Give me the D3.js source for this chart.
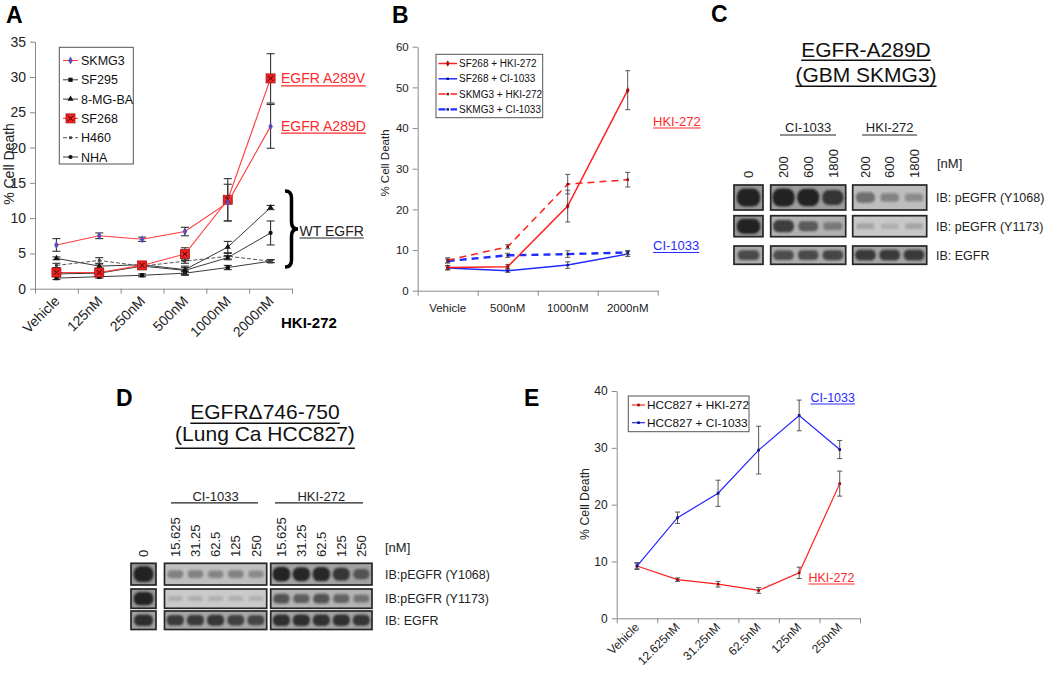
<!DOCTYPE html>
<html>
<head>
<meta charset="utf-8">
<script src="https://cdn.jsdelivr.net/npm/d3@7"></script>
<style>
body{margin:0;background:#fff;}
text{font-family:"Liberation Sans",Arial,sans-serif;}
</style>
</head>
<body>
<script>
// ---------------- DATA ----------------
// Panel A
const A_categories = ["Vehicle","125nM","250nM","500nM","1000nM","2000nM"];
const A_yTicks = [0,5,10,15,20,25,30,35];
const A_SKMG3 = [6.2, 7.5, 7.0, 8.1, 12.2, 23.0];
const A_SKMG3_err = [0.9, 0.4, 0.3, 0.6, 2.6, 3.1];
const A_SF295 = [1.5, 1.7, 1.9, 2.2, 3.0, 3.9];
const A_SF295_err = [0.2, 0.2, 0.2, 0.3, 0.3, 0.2];
const A_8MGBA = [4.3, 3.2, 3.4, 2.7, 5.9, 11.5];
const A_8MGBA_err = [0.2, 0.3, 0.3, 0.3, 0.8, 0.3];
const A_SF268 = [2.3, 2.3, 3.3, 4.9, 12.6, 29.8];
const A_SF268_err = [0.3, 0.3, 0.3, 0.9, 3.0, 3.5];
const A_H460 = [3.3, 4.0, 3.2, 3.9, 4.6, 3.9];
const A_H460_err = [0.3, 0.4, 0.4, 0.3, 0.4, 0.2];
const A_NHA = [2.1, 2.2, 3.2, 2.6, 4.4, 7.9];
const A_NHA_err = [0.2, 0.3, 0.2, 0.6, 0.3, 1.7];

// Panel B
const B_categories = ["Vehicle","500nM","1000nM","2000nM"];
const B_yTicks = [0,10,20,30,40,50,60];
const B_SF268_HKI = [5.7, 5.9, 20.8, 49.3];
const B_SF268_HKI_err = [0.5, 0.5, 3.9, 4.8];
const B_SF268_CI = [5.6, 4.9, 6.3, 9.0];
const B_SF268_CI_err = [0.5, 0.4, 0.8, 0.6];
const B_SKMG3_HKI = [7.5, 10.8, 26.2, 27.3];
const B_SKMG3_HKI_err = [0.6, 0.5, 2.4, 1.8];
const B_SKMG3_CI = [7.3, 8.7, 9.0, 9.4];
const B_SKMG3_CI_err = [0.5, 0.5, 0.8, 0.5];

// Panel E
const E_categories = ["Vehicle","12.625nM","31.25nM","62.5nM","125nM","250nM"];
const E_yTicks = [0,10,20,30,40];
const E_HKI = [9.2, 6.8, 6.0, 4.9, 8.0, 23.7];
const E_HKI_err = [0.5, 0.3, 0.5, 0.5, 1.0, 2.2];
const E_CI = [9.2, 17.7, 22.0, 29.6, 35.7, 29.7];
const E_CI_err = [0.6, 1.0, 2.3, 4.2, 2.7, 1.6];

// Panel C blot
const C_lanes = ["0","200","600","1800","200","600","1800"];
const C_groups = ["CI-1033","HKI-272"];
const C_rows = ["IB: pEGFR (Y1068)","IB: pEGFR (Y1173)","IB: EGFR"];
const C_row1 = [1.0, 1.0, 0.95, 0.75, 0.4, 0.25, 0.2];
const C_row2 = [1.0, 0.72, 0.5, 0.3, 0.1, 0.05, 0.1];
const C_row3 = [0.62, 0.6, 0.62, 0.65, 0.72, 0.72, 0.72];

// Panel D blot
const D_lanes = ["0","15.625","31.25","62.5","125","250","15.625","31.25","62.5","125","250"];
const D_groups = ["CI-1033","HKI-272"];
const D_rows = ["IB:pEGFR (Y1068)","IB:pEGFR (Y1173)","IB: EGFR"];
const D_row1 = [1.0, 0.3, 0.27, 0.25, 0.27, 0.22, 0.92, 0.85, 0.88, 0.75, 0.5];
const D_row2 = [0.95, 0.06, 0.06, 0.05, 0.05, 0.04, 0.55, 0.48, 0.55, 0.45, 0.35];
const D_row3 = [0.8, 0.72, 0.72, 0.75, 0.68, 0.65, 0.8, 0.8, 0.78, 0.78, 0.75];

// ---------------- DRAWING ----------------
const W = 1050, H = 675;
const svg = d3.select("body").append("svg").attr("width", W).attr("height", H);
svg.append("rect").attr("width", W).attr("height", H).attr("fill", "#fff");

const defs = svg.append("defs");
defs.append("filter").attr("id","blur").attr("x","-50%").attr("y","-50%").attr("width","200%").attr("height","200%")
  .append("feGaussianBlur").attr("stdDeviation", 1.3);

function underline(sel, color, off, w){
  const node = sel.node();
  const bb = node.getBBox();
  const y = +sel.attr("y") + off;
  d3.select(node.parentNode).append("line")
    .attr("x1", bb.x).attr("x2", bb.x + bb.width).attr("y1", y).attr("y2", y)
    .attr("stroke", color).attr("stroke-width", w || 1.2);
}

function panelLetter(t, x, y){
  svg.append("text").attr("x", x).attr("y", y).text(t)
    .attr("font-size", 23).attr("font-weight", "bold").attr("fill", "#000");
}

// generic line chart
function lineChart(cfg){
  const g = svg.append("g");
  const n = cfg.categories.length;
  const x = d3.scaleBand().domain(cfg.categories).range(cfg.xRange);
  const xEdge = d3.scaleLinear().domain([0, n]).range(cfg.xRange);
  const y = d3.scaleLinear().domain(cfg.yDomain).range(cfg.yRange);
  const ya = g.append("g").attr("transform", `translate(${cfg.xRange[0]},0)`)
    .call(d3.axisLeft(y).tickValues(cfg.yTicks).tickSize(cfg.tickSize || 5).tickSizeOuter(0));
  ya.select(".domain").attr("stroke", "#8a8a8a");
  ya.selectAll(".tick line").attr("stroke", "#8a8a8a");
  ya.selectAll(".tick text").attr("font-size", cfg.fontSize).attr("fill", "#222")
    .attr("font-family", "Liberation Sans, Arial, sans-serif").attr("dx", -1);
  const xa = g.append("g").attr("transform", `translate(0,${cfg.yRange[0]})`)
    .call(d3.axisBottom(xEdge).tickValues(d3.range(n + 1)).tickFormat("").tickSize(cfg.tickSize || 5).tickSizeOuter(0));
  xa.select(".domain").attr("stroke", "#8a8a8a");
  xa.selectAll(".tick line").attr("stroke", "#8a8a8a");
  const lab = g.append("g");
  cfg.categories.forEach(c => {
    const cx = x(c) + x.bandwidth() / 2;
    if (cfg.rotate) {
      lab.append("text").attr("transform", `translate(${cx + cfg.labDx},${cfg.labY}) rotate(-45)`)
        .attr("text-anchor", "end").attr("font-size", cfg.fontSize).attr("fill", "#222").text(c);
    } else {
      lab.append("text").attr("x", cx).attr("y", cfg.labY).attr("text-anchor", "middle")
        .attr("font-size", cfg.fontSize).attr("fill", "#222").text(c);
    }
  });
  g.append("text").attr("transform", `translate(${cfg.yTitleX},${cfg.yTitleY}) rotate(-90)`)
    .attr("text-anchor", "middle").attr("font-size", cfg.yTitleSize).attr("fill", "#222").text("% Cell Death");
  cfg.series.forEach(s => {
    const pts = cfg.categories.map((c, i) => ({x: x(c) + x.bandwidth() / 2, v: s.values[i], e: s.err[i]}));
    const eb = g.append("g").attr("stroke", s.errColor || "#333").attr("stroke-width", s.errWidth || 1.1);
    pts.forEach(p => {
      eb.append("line").attr("x1", p.x).attr("x2", p.x).attr("y1", y(p.v - p.e)).attr("y2", y(p.v + p.e));
      [p.v - p.e, p.v + p.e].forEach(v => eb.append("line").attr("x1", p.x - cfg.cap).attr("x2", p.x + cfg.cap)
        .attr("y1", y(v)).attr("y2", y(v)));
    });
    g.append("path").datum(pts).attr("fill", "none").attr("stroke", s.color).attr("stroke-width", s.width)
      .attr("stroke-dasharray", s.dash || null)
      .attr("d", d3.line().x(p => p.x).y(p => y(p.v)));
    pts.forEach(p => drawMarker(g, s, p.x, y(p.v)));
  });
  return {x, y, g};
}

function drawMarker(g, s, px, py){
  if (!s.marker) return;
  if (s.marker === "redbox") {
    g.append("rect").attr("x", px - 4.5).attr("y", py - 4.5).attr("width", 9).attr("height", 9)
      .attr("fill", "#ee2222").attr("stroke", "#aa1111").attr("stroke-width", 0.8);
    g.append("path").attr("d", `M${px-2.5},${py-2.5}L${px+2.5},${py+2.5}M${px+2.5},${py-2.5}L${px-2.5},${py+2.5}`)
      .attr("stroke", "#400").attr("stroke-width", 1);
    return;
  }
  const types = {square: d3.symbolSquare, triangle: d3.symbolTriangle, diamond: d3.symbolDiamond, circle: d3.symbolCircle};
  g.append("path").attr("transform", `translate(${px},${py})`)
    .attr("d", d3.symbol().type(types[s.marker]).size(s.msize || 16))
    .attr("fill", s.mcolor || s.color);
}

function legend(cfg){
  const g = svg.append("g");
  g.append("rect").attr("x", cfg.x0).attr("y", cfg.y0).attr("width", cfg.x1 - cfg.x0).attr("height", cfg.y1 - cfg.y0)
    .attr("fill", "#fff").attr("stroke", "#555").attr("stroke-width", 1);
  cfg.items.forEach((s, i) => {
    const yy = cfg.firstY + i * cfg.step;
    g.append("line").attr("x1", cfg.lx0).attr("x2", cfg.lx1).attr("y1", yy).attr("y2", yy)
      .attr("stroke", s.color).attr("stroke-width", s.width).attr("stroke-dasharray", s.dash || null);
    drawMarker(g, s, (cfg.lx0 + cfg.lx1) / 2, yy);
    g.append("text").attr("x", cfg.tx).attr("y", yy).attr("dy", "0.36em").attr("font-size", cfg.fontSize)
      .attr("fill", "#111").text(s.name);
  });
}

// ---------- Panel A ----------
const A_series = [
  {name: "SKMG3", values: A_SKMG3, err: A_SKMG3_err, color: "#ff3b3b", width: 1.1, marker: "diamond", mcolor: "#5a4bb5", msize: 18},
  {name: "SF295", values: A_SF295, err: A_SF295_err, color: "#3a3a3a", width: 1, marker: "square", mcolor: "#111", msize: 18},
  {name: "8-MG-BA", values: A_8MGBA, err: A_8MGBA_err, color: "#3a3a3a", width: 1, marker: "triangle", mcolor: "#111", msize: 16},
  {name: "SF268", values: A_SF268, err: A_SF268_err, color: "#ff3b3b", width: 1.1, marker: "redbox"},
  {name: "H460", values: A_H460, err: A_H460_err, color: "#555", width: 1, dash: "4,2", marker: "square", mcolor: "#444", msize: 8},
  {name: "NHA", values: A_NHA, err: A_NHA_err, color: "#3a3a3a", width: 1, marker: "circle", mcolor: "#111", msize: 14}
];
const drawOrderA = [1, 2, 4, 5, 3, 0];
lineChart({
  categories: A_categories, xRange: [35, 292], yDomain: [0, 35], yRange: [288.7, 41.7], yTicks: A_yTicks,
  fontSize: 14, rotate: true, labDx: 4, labY: 302, cap: 4, yTitleX: 14, yTitleY: 164, yTitleSize: 14,
  series: drawOrderA.map(i => A_series[i])
});
legend({x0: 59.3, y0: 47.3, x1: 133.3, y1: 164, firstY: 60.5, step: 19.3, lx0: 63, lx1: 78, tx: 81, fontSize: 12.5, items: A_series});
svg.append("text").attr("x", 281).attr("y", 328).attr("font-size", 15).attr("font-weight", "bold").text("HKI-272");
{
  const t1 = svg.append("text").attr("x", 281).attr("y", 83.3).attr("font-size", 14).attr("fill", "#ff2a2a").text("EGFR A289V");
  underline(t1, "#ff2a2a", 2.5, 1.3);
  const t2 = svg.append("text").attr("x", 281).attr("y", 130.7).attr("font-size", 14).attr("fill", "#ff2a2a").text("EGFR A289D");
  underline(t2, "#ff2a2a", 2.5, 1.3);
  svg.append("path").attr("d", "M285,191 Q291.5,191 291.5,198 L291.5,222 Q291.5,229 298,229 Q291.5,229 291.5,236 L291.5,260 Q291.5,267 285,267")
    .attr("fill", "none").attr("stroke", "#000").attr("stroke-width", 3.5);
  const t3 = svg.append("text").attr("x", 299.5).attr("y", 235.5).attr("font-size", 14).attr("fill", "#222").text("WT EGFR");
  underline(t3, "#222", 2.5, 1.2);
}
panelLetter("A", 6, 23);

// ---------- Panel B ----------
const B_series = [
  {name: "SF268 + HKI-272", values: B_SF268_HKI, err: B_SF268_HKI_err, color: "#ff2020", width: 1.5, marker: "diamond", mcolor: "#a01010", msize: 12},
  {name: "SF268 + CI-1033", values: B_SF268_CI, err: B_SF268_CI_err, color: "#1f2bff", width: 1.5, marker: "square", mcolor: "#101080", msize: 6},
  {name: "SKMG3 + HKI-272", values: B_SKMG3_HKI, err: B_SKMG3_HKI_err, color: "#ff2020", width: 1.5, dash: "7,5", marker: "square", mcolor: "#801010", msize: 6},
  {name: "SKMG3 + CI-1033", values: B_SKMG3_CI, err: B_SKMG3_CI_err, color: "#1f2bff", width: 2.4, dash: "7,5", marker: "square", mcolor: "#101080", msize: 6}
];
lineChart({
  categories: B_categories, xRange: [417.7, 657.7], yDomain: [0, 60], yRange: [290.7, 46.7], yTicks: B_yTicks,
  fontSize: 11.5, rotate: false, labY: 312, cap: 2.5, yTitleX: 389, yTitleY: 163, yTitleSize: 11.5,
  series: [B_series[1], B_series[3], B_series[2], B_series[0]].map(s => Object.assign({errColor: "#555", errWidth: 1}, s))
});
legend({x0: 436, y0: 54.3, x1: 542.7, y1: 117.7, firstY: 63.5, step: 15.3, lx0: 438.5, lx1: 457, tx: 459, fontSize: 10, items: B_series});
{
  const t1 = svg.append("text").attr("x", 653).attr("y", 125.5).attr("font-size", 13).attr("fill", "#ff2a2a").text("HKI-272");
  underline(t1, "#ff2a2a", 2.5, 1.2);
  const t2 = svg.append("text").attr("x", 653).attr("y", 250).attr("font-size", 13).attr("fill", "#2a2aff").text("CI-1033");
  underline(t2, "#2a2aff", 2.5, 1.2);
}
panelLetter("B", 392, 23);

// ---------- Panel E ----------
const E_series = [
  {name: "HCC827 + HKI-272", values: E_HKI, err: E_HKI_err, color: "#ff2020", width: 1.2, marker: "square", mcolor: "#901010", msize: 7},
  {name: "HCC827 + CI-1033", values: E_CI, err: E_CI_err, color: "#2525ff", width: 1.2, marker: "square", mcolor: "#101090", msize: 7}
];
lineChart({
  categories: E_categories, xRange: [616.7, 860], yDomain: [0, 40], yRange: [618.3, 391], yTicks: E_yTicks,
  fontSize: 12, rotate: true, labDx: 3, labY: 628, cap: 2.5, yTitleX: 589, yTitleY: 504, yTitleSize: 12.3,
  series: E_series.map(s => Object.assign({errColor: "#555", errWidth: 1}, s))
});
legend({x0: 628.3, y0: 396, x1: 749, y1: 431.7, firstY: 405, step: 17.7, lx0: 632, lx1: 645, tx: 647, fontSize: 11.8, items: E_series});
{
  const t1 = svg.append("text").attr("x", 810.5).attr("y", 401.5).attr("font-size", 12.5).attr("fill", "#2a2aff").text("CI-1033");
  underline(t1, "#2a2aff", 2.5, 1.2);
  const t2 = svg.append("text").attr("x", 808.5).attr("y", 581.5).attr("font-size", 12.5).attr("fill", "#ff2a2a").text("HKI-272");
  underline(t2, "#ff2a2a", 2.5, 1.2);
}
panelLetter("E", 524, 406);

// ---------- Blots ----------
function blot(cfg){
  const g = svg.append("g");
  cfg.title.forEach((t, i) => {
    const tt = g.append("text").attr("x", cfg.titleX).attr("y", cfg.titleY[i]).attr("text-anchor", "middle")
      .attr("font-size", cfg.titleSize).attr("fill", "#111").text(t);
    underline(tt, "#111", cfg.titleUl[i], 1.5);
  });
  cfg.groups.forEach((gname, i) => {
    const b = cfg.boxes[i + 1];
    g.append("text").attr("x", (b[0] + b[1]) / 2).attr("y", cfg.groupY).attr("text-anchor", "middle")
      .attr("font-size", 13).attr("fill", "#222").text(gname);
    g.append("line").attr("x1", cfg.groupUl[i][0]).attr("x2", cfg.groupUl[i][1])
      .attr("y1", cfg.groupY + cfg.groupUlOff).attr("y2", cfg.groupY + cfg.groupUlOff).attr("stroke", "#222").attr("stroke-width", 1.1);
  });
  const laneX = [];
  cfg.boxLanes.forEach((lanes, bi) => {
    const b = cfg.boxes[bi];
    const sc = d3.scaleBand().domain(lanes).range([b[0] + 1.5, b[1] - 1.5]).paddingInner(0.08);
    lanes.forEach(l => laneX[l] = {c: sc(l) + sc.bandwidth() / 2, w: sc.bandwidth()});
  });
  cfg.lanes.forEach((lab, i) => {
    g.append("text").attr("transform", `translate(${laneX[i].c},${cfg.laneLabY}) rotate(-90)`)
      .attr("dy", "0.36em").attr("font-size", 13).attr("fill", "#222").text(lab);
  });
  g.append("text").attr("x", cfg.nmX).attr("y", cfg.nmY).attr("font-size", 13).attr("fill", "#222").text("[nM]");
  cfg.rows.forEach((rowName, ri) => {
    const [ry0, ry1] = cfg.rowY[ri];
    const vals = cfg.intensity[ri];
    cfg.boxLanes.forEach((lanes, bi) => {
      const b = cfg.boxes[bi];
      const mean = d3.mean(lanes, l => vals[l]);
      const gray = Math.round(205 - 55 * mean);
      g.append("rect").attr("x", b[0]).attr("y", ry0).attr("width", b[1] - b[0]).attr("height", ry1 - ry0)
        .attr("fill", `rgb(${gray},${gray},${gray})`).attr("stroke", "#262626").attr("stroke-width", 1.7);
      const bg = g.append("g").attr("filter", "url(#blur)");
      lanes.forEach(l => {
        const v = vals[l];
        const lx = laneX[l];
        const h = ry1 - ry0;
        const bw = lx.w * (0.78 + 0.2 * v);
        const bh = h * (0.22 + 0.5 * v);
        const cy = (ry0 + ry1) / 2;
        bg.append("rect").attr("x", lx.c - bw / 2).attr("y", cy - bh / 2).attr("width", bw).attr("height", bh)
          .attr("rx", Math.min(bw, bh) * 0.45)
          .attr("fill", "#202020").attr("opacity", Math.min(1, 0.12 + 0.95 * v));
      });
    });
    g.append("text").attr("x", cfg.rowLabX).attr("y", (ry0 + ry1) / 2).attr("dy", "0.36em")
      .attr("font-size", 12.5).attr("fill", "#222").text(rowName);
  });
}

blot({
  title: ["EGFR-A289D", "(GBM SKMG3)"], titleX: 866, titleY: [57.3, 81.7], titleUl: [3, 4.5], titleSize: 21,
  groups: C_groups, groupY: 131.5, groupUlOff: 3.5, groupUl: [[780, 836], [862, 917]],
  boxes: [[734, 763], [770.7, 845.7], [852.7, 926.7]], boxLanes: [[0], [1, 2, 3], [4, 5, 6]],
  lanes: C_lanes, laneLabY: 178, nmX: 937, nmY: 168,
  rows: C_rows, rowY: [[185, 210], [215.7, 236.7], [246, 264.3]], intensity: [C_row1, C_row2, C_row3], rowLabX: 936
});
panelLetter("C", 711, 22);

blot({
  title: ["EGFR\u0394746-750", "(Lung Ca HCC827)"], titleX: 265, titleY: [419.3, 440.7], titleUl: [4, 7.5], titleSize: 21,
  groups: D_groups, groupY: 501.3, groupUlOff: 1.6, groupUl: [[171, 258], [275, 363]],
  boxes: [[131, 156], [164.5, 266.7], [270.7, 372]], boxLanes: [[0], [1, 2, 3, 4, 5], [6, 7, 8, 9, 10]],
  lanes: D_lanes, laneLabY: 557, nmX: 385, nmY: 551.7,
  rows: D_rows, rowY: [[563.3, 585], [589, 608.3], [611, 629.5]], intensity: [D_row1, D_row2, D_row3], rowLabX: 385
});
panelLetter("D", 116, 406);
</script>
</body>
</html>
